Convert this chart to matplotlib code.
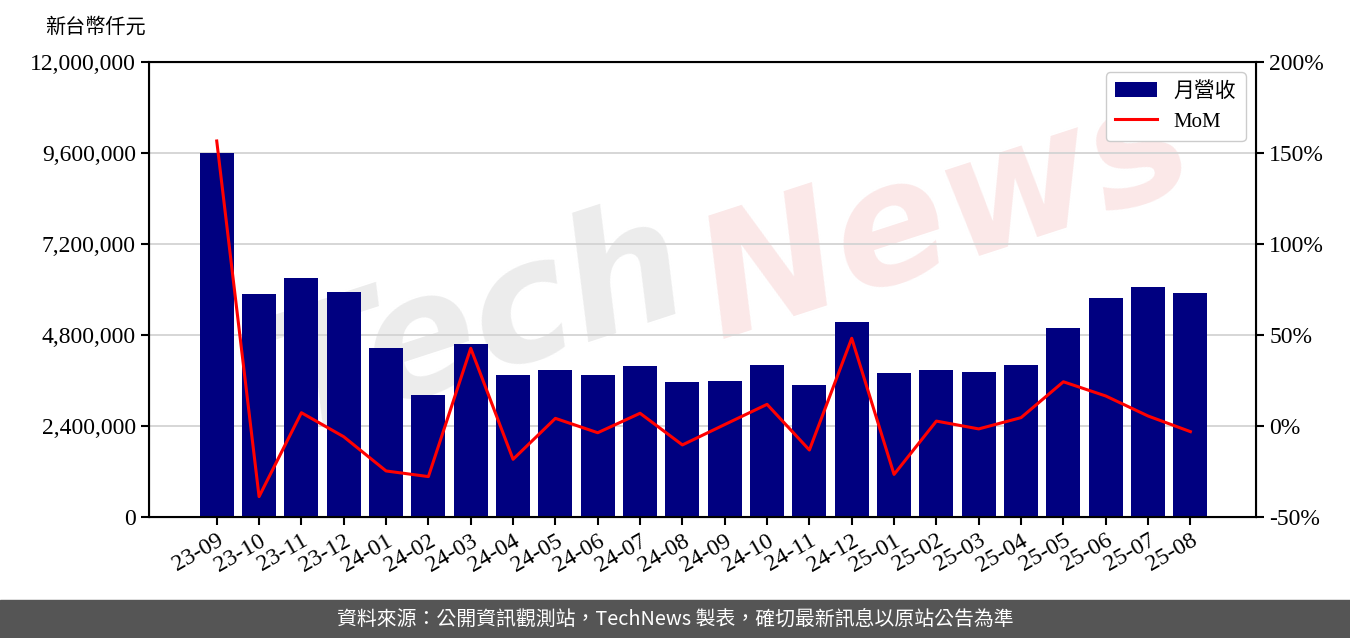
import numpy as np
import matplotlib.pyplot as plt
from matplotlib.ticker import FuncFormatter

months = ['23-09', '23-10', '23-11', '23-12', '24-01', '24-02', '24-03', '24-04',
          '24-05', '24-06', '24-07', '24-08', '24-09', '24-10', '24-11', '24-12',
          '25-01', '25-02', '25-03', '25-04', '25-05', '25-06', '25-07', '25-08']
# monthly revenue, NT$ thousand
revenue = [9600000, 5880000, 6300000, 5930000, 4460000, 3220000, 4560000, 3750000,
           3880000, 3740000, 3980000, 3560000, 3590000, 4010000, 3480000, 5140000,
           3800000, 3880000, 3820000, 4010000, 4980000, 5780000, 6070000, 5910000]
# month-over-month change, %
mom = [156.6, -38.8, 7.3, -5.9, -24.7, -27.8, 42.7, -18.3,
       4.2, -3.7, 7.0, -10.4, 0.8, 11.9, -13.2, 48.2,
       -26.6, 2.7, -1.6, 4.6, 24.3, 16.5, 5.5, -3.1]

left_ticks = [0, 2400000, 4800000, 7200000, 9600000, 12000000]
right_ticks = [-50, 0, 50, 100, 150, 200]

serif = ['Liberation Serif', 'Noto Sans CJK TC']
plt.rcParams['font.family'] = serif

fig = plt.figure(figsize=(13.5, 6.38), dpi=100)
ax = fig.add_axes([149 / 1350, 1 - 517 / 638, (1256 - 149) / 1350, (517 - 62) / 638])
x = np.arange(len(months))

# watermark
ax.text(0.30, 0.42, 'Tech', transform=ax.transAxes, fontsize=120, color='#ececec',
        rotation=18, ha='center', va='center', style='italic', weight='bold',
        family='DejaVu Sans', zorder=0)
ax.text(0.72, 0.66, 'News', transform=ax.transAxes, fontsize=120, color='#fbe8e8',
        rotation=18, ha='center', va='center', style='italic', weight='bold',
        family='DejaVu Sans', zorder=0)

ax.set_axisbelow(True)
ax.grid(axis='y', color='#d3d3d3', lw=1.3)
bars = ax.bar(x, revenue, width=0.8, color='#000080', label='月營收', zorder=2)
ax.set_ylim(0, 12000000)
ax.set_yticks(left_ticks)
ax.yaxis.set_major_formatter(FuncFormatter(lambda v, p: f'{int(v):,}'))
ax.set_xlim(-1.6, 24.55)
ax.set_xticks(x)
ax.set_xticklabels(months, rotation=30, ha='right', rotation_mode='anchor')
ax.tick_params(labelsize=17, width=1.5, length=6)
for s in ax.spines.values():
    s.set_linewidth(1.5)

ax2 = ax.twinx()
line, = ax2.plot(x, mom, color='red', lw=2.2, label='MoM', zorder=3)
ax2.set_ylim(-50, 200)
ax2.set_yticks(right_ticks)
ax2.yaxis.set_major_formatter(FuncFormatter(lambda v, p: f'{int(v)}%'))
ax2.tick_params(labelsize=17, width=1.5, length=6)

ax2.legend([bars, line], ['月營收', 'MoM'], loc='upper right', fontsize=15,
           framealpha=1, edgecolor='#cccccc', borderpad=0.45)

fig.text(45 / 1350, 1 - 27 / 638, '新台幣仟元', fontsize=14.5, va='center', ha='left',
         family=['Noto Sans CJK TC'])

# footer band
fig.patches.append(plt.Rectangle((0, 0), 1, 38 / 638, transform=fig.transFigure,
                                 color='#555555', zorder=0))
fig.text(0.5, 19 / 638, '資料來源：公開資訊觀測站，TechNews 製表，確切最新訊息以原站公告為準',
         color='white', fontsize=14.3, ha='center', va='center',
         family=['Noto Sans CJK TC', 'DejaVu Sans'])

fig.savefig('out.png', dpi=100)
